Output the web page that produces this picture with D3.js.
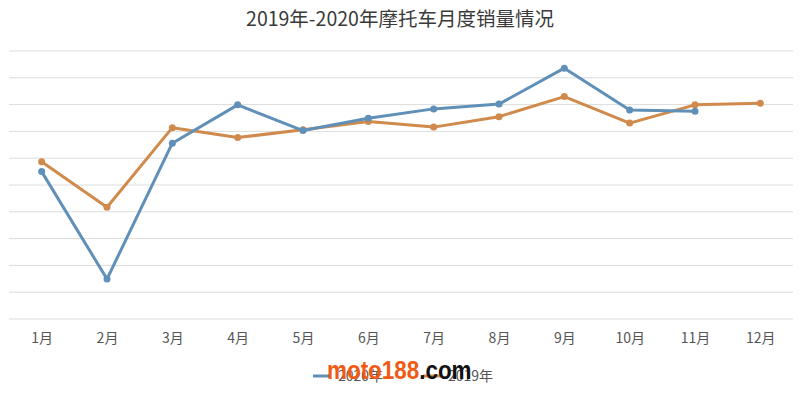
<!DOCTYPE html>
<html>
<head>
<meta charset="utf-8">
<script src="https://cdn.jsdelivr.net/npm/d3@7"></script>
<style>
  body { margin: 0; background: #fff; }
  text { font-family: "Noto Sans CJK SC", "Noto Sans", sans-serif; }
</style>
</head>
<body>
<div id="chart"></div>
<script>
// 2019-2020 motorcycle monthly sales (units read off the gridlines, no y labels in source)
const months = ["1月", "2月", "3月", "4月", "5月", "6月", "7月", "8月", "9月", "10月", "11月", "12月"];
const sales2020 = [55.0, 14.9, 65.6, 79.9, 70.3, 74.9, 78.4, 80.2, 93.6, 78.0, 77.5, null];
const sales2019 = [58.7, 41.7, 71.4, 67.7, 70.6, 73.7, 71.6, 75.5, 83.0, 73.1, 79.9, 80.5];
const gridTicks = [0, 10, 20, 30, 40, 50, 60, 70, 80, 90, 100];

const title = "2019年-2020年摩托车月度销量情况";
const seriesNames = ["2020年", "2019年"];
const colors = ["#6090b8", "#cf8a4c"];

const width = 800, height = 394;
const margin = { top: 51, right: 7, bottom: 75, left: 9 };

const svg = d3.select("#chart")
    .append("svg")
    .attr("width", width)
    .attr("height", height);

let x = d3.scalePoint()
    .domain(months)
    .range([margin.left, width - margin.right])
    .padding(0.5);

let y = d3.scaleLinear()
    .domain([0, 100])
    .range([height - margin.bottom, margin.top]);

// title
svg.append("text")
    .attr("x", 400)
    .attr("y", 26)
    .attr("text-anchor", "middle")
    .attr("font-size", 19.5)
    .attr("fill", "#3a3a3a")
    .text(title);

// gridlines
svg.append("g")
    .selectAll("line")
    .data(gridTicks)
    .join("line")
    .attr("x1", margin.left)
    .attr("x2", width - margin.right)
    .attr("y1", d => y(d))
    .attr("y2", d => y(d))
    .attr("stroke", "#dcdcdc")
    .attr("stroke-width", 1);

// x axis labels
let xAxis = d3.axisBottom(x).tickSize(0).tickPadding(14);
let gx = svg.append("g")
    .attr("transform", "translate(0," + y(0) + ")")
    .call(xAxis);
gx.select(".domain").remove();
gx.selectAll("text")
    .attr("font-size", 14)
    .attr("fill", "#555")
    .style("font-family", '"Noto Sans CJK SC", sans-serif');

// lines
let line = d3.line()
    .defined(d => d.v != null)
    .x(d => x(d.m))
    .y(d => y(d.v));

const series = [sales2020, sales2019].map((vals, i) => ({
    name: seriesNames[i],
    color: colors[i],
    pts: vals.map((v, j) => ({ m: months[j], v: v }))
}));

// draw 2019 first so 2020 sits on top where they meet
[series[1], series[0]].forEach(s => {
    svg.append("path")
        .datum(s.pts)
        .attr("fill", "none")
        .attr("stroke", s.color)
        .attr("stroke-width", 3)
        .attr("stroke-linejoin", "round")
        .attr("d", line);

    svg.append("g")
        .selectAll("circle")
        .data(s.pts.filter(d => d.v != null))
        .join("circle")
        .attr("cx", d => x(d.m))
        .attr("cy", d => y(d.v))
        .attr("r", 3.5)
        .attr("fill", s.color);
});

// legend
let legend = svg.append("g").attr("transform", "translate(313,376)");
series.forEach((s, i) => {
    let g = legend.append("g").attr("transform", "translate(" + (i * 110) + ",0)");
    g.append("line")
        .attr("x1", 0).attr("x2", 18)
        .attr("stroke", s.color)
        .attr("stroke-width", 3);
    g.append("text")
        .attr("x", 25)
        .attr("y", 5)
        .attr("font-size", 14)
        .attr("fill", "#555")
        .text(s.name);
});

// site watermark, laid over the legend as in the source image (narrow, tall glyphs)
let wm = svg.append("g")
    .attr("transform", "translate(327,378.5) scale(0.88,1)")
    .append("text")
    .attr("font-size", 25.5)
    .attr("font-weight", "bold")
    .style("font-family", '"Liberation Sans", Arial, sans-serif');
wm.append("tspan").attr("fill", "#f05a14").text("moto188");
wm.append("tspan").attr("fill", "#111").text(".com");
</script>
</body>
</html>
